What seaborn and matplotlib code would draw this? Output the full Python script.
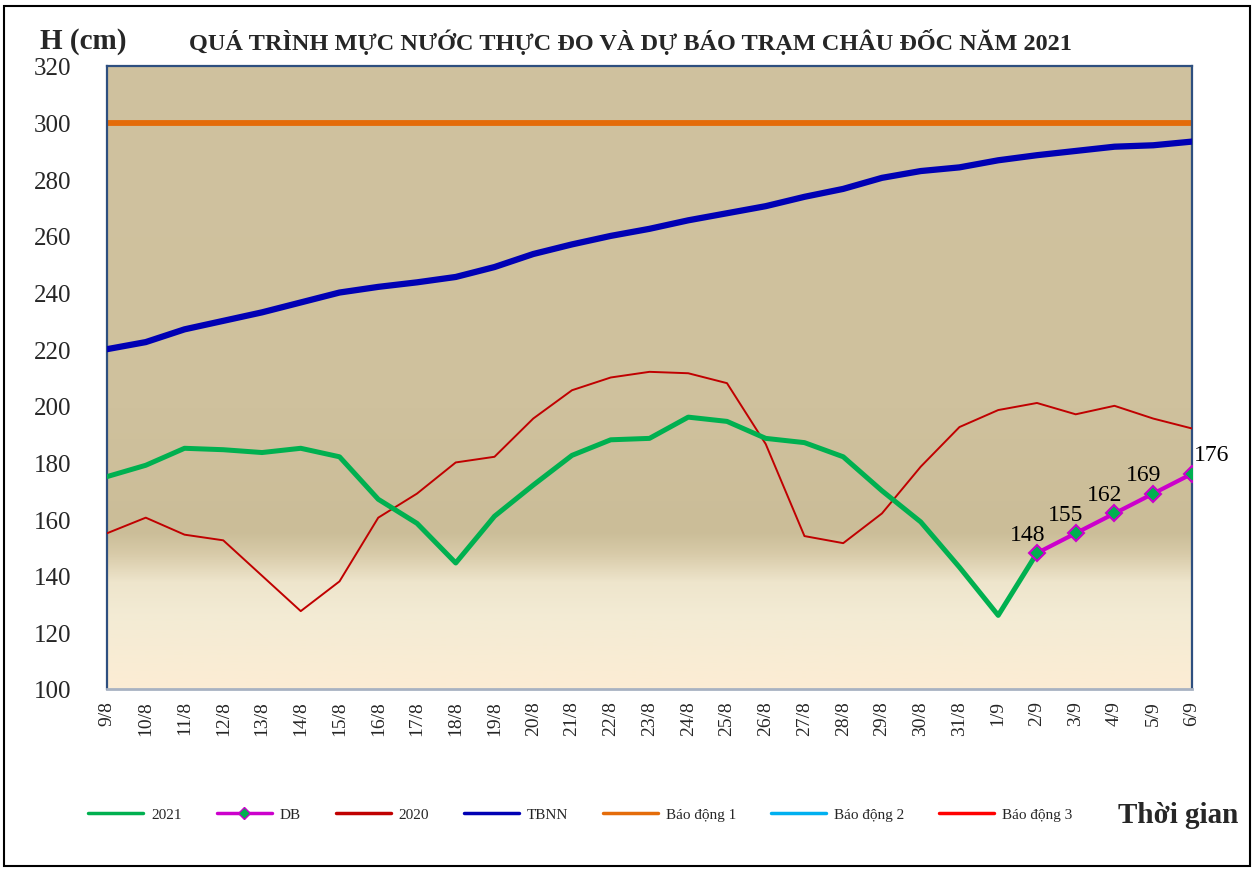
import numpy as np
import pandas as pd
import matplotlib
matplotlib.use("Agg")
import matplotlib.pyplot as plt
import seaborn as sns
from matplotlib.colors import LinearSegmentedColormap
from matplotlib.lines import Line2D
from matplotlib.patches import Rectangle

# Ngày quan trắc
dates = ["9/8", "10/8", "11/8", "12/8", "13/8", "14/8", "15/8", "16/8", "17/8",
         "18/8", "19/8", "20/8", "21/8", "22/8", "23/8", "24/8", "25/8", "26/8",
         "27/8", "28/8", "29/8", "30/8", "31/8", "1/9", "2/9", "3/9", "4/9",
         "5/9", "6/9"]

# Mực nước thực đo 2021 (cm), đến 2/9
h_2021 = [175, 179, 185, 184.5, 183.5, 185, 182, 167, 158.5, 144.5, 161, 172,
          182.5, 188, 188.5, 196, 194.5, 188.5, 187, 182, 170, 159, 143, 126, 148]
# Dự báo (DB) từ 2/9
h_db = [148, 155, 162, 169, 176]
# Cùng kỳ 2020
h_2020 = [155, 160.5, 154.5, 152.5, 140, 127.5, 138, 160.5, 169, 180, 182, 195.5,
          205.5, 210, 212, 211.5, 208, 186.5, 154, 151.5, 162, 178.5, 192.5, 198.5,
          201, 197, 200, 195.5, 192]
# Trung bình nhiều năm
h_tbnn = [220, 222.5, 227, 230, 233, 236.5, 240, 242, 243.6, 245.5, 249, 253.6,
          257, 260, 262.5, 265.5, 268, 270.5, 273.8, 276.6, 280.5, 282.9, 284.2,
          286.7, 288.5, 290, 291.5, 292, 293.3]
# Mức báo động
bd1, bd2, bd3 = 300, 350, 400

n = len(dates)
pos = np.arange(n)

sns.set_theme(style="white")
plt.rcParams["font.family"] = ["Liberation Serif", "DejaVu Serif"]

fig = plt.figure(figsize=(12.56, 8.7), dpi=100)
ax = fig.add_axes([0.0852, 0.2069, 0.8638, 0.7161])

# nền gradient
cmap = LinearSegmentedColormap.from_list(
    "bg", [(0.0, "#FCEDD4"), (0.12, "#F3EBD4"), (0.17, "#EEE5CC"),
           (0.215, "#D8CBA9"), (0.25, "#CBBD98"), (0.45, "#CFC19D"), (1.0, "#D0C29F")])
grad = np.linspace(0, 1, 256).reshape(-1, 1)
ax.imshow(grad, cmap=cmap, origin="lower", aspect="auto",
          extent=[0, 1, 0, 1], transform=ax.transAxes, zorder=0)

df_2021 = pd.DataFrame({"x": pos[:len(h_2021)], "y": h_2021})
df_db = pd.DataFrame({"x": pos[n - len(h_db):], "y": h_db})
df_2020 = pd.DataFrame({"x": pos, "y": h_2020})
df_tbnn = pd.DataFrame({"x": pos, "y": h_tbnn})

c2021, cdb, c2020, ctb = "#00B050", "#CC00CC", "#C00000", "#0000B4"
cbd1, cbd2, cbd3 = "#E46C0A", "#00B0F0", "#FF0000"

sns.lineplot(data=df_2021, x="x", y="y", ax=ax, color=c2021, lw=3.6, zorder=4)
sns.lineplot(data=df_2020, x="x", y="y", ax=ax, color=c2020, lw=1.4, zorder=3)
sns.lineplot(data=df_tbnn, x="x", y="y", ax=ax, color=ctb, lw=4.5, zorder=3)
ax.axhline(bd1, color=cbd1, lw=4.2, zorder=2)
ax.axhline(bd2, color=cbd2, lw=2, zorder=2)
ax.axhline(bd3, color=cbd3, lw=2, zorder=2)
sns.lineplot(data=df_db, x="x", y="y", ax=ax, color=cdb, lw=3, marker="D",
             markersize=8, markerfacecolor=c2021, markeredgecolor=cdb,
             markeredgewidth=1.5, zorder=5)

for i, (x, y) in enumerate(zip(df_db["x"], df_db["y"])):
    dx = 14 if i == len(h_db) - 1 else -7
    ax.annotate(f"{y:g}", (x, y), xytext=(dx, 6), textcoords="offset points",
                ha="center", va="bottom", fontsize=17, color="black", zorder=6)

ax.set_xlim(0, n - 1)
ax.set_ylim(100, 320)
ax.set_yticks(np.arange(100, 321, 20))
ax.set_xticks(pos)
ax.set_xticklabels(dates, rotation=90, fontsize=14)
ax.tick_params(axis="y", labelsize=18, pad=26, length=0)
ax.tick_params(axis="x", pad=8, length=0)
ax.set_xlabel("")
ax.set_ylabel("")
for s in ["left", "right", "top"]:
    ax.spines[s].set_color("#2E4F7F")
    ax.spines[s].set_linewidth(1.6)
ax.spines["bottom"].set_color("#A8B2C2")
ax.spines["bottom"].set_linewidth(2)

fig.text(0.032, 0.952, "H (cm)", fontsize=21, fontweight="bold", va="center")
fig.text(0.502, 0.952, "QUÁ TRÌNH MỰC NƯỚC THỰC ĐO VÀ DỰ BÁO TRẠM CHÂU ĐỐC NĂM 2021",
         fontsize=17.5, fontweight="bold", ha="center", va="center")

handles = [
    Line2D([], [], color=c2021, lw=2.5),
    Line2D([], [], color=cdb, lw=2.5, marker="D", markersize=6,
           markerfacecolor=c2021, markeredgecolor=cdb),
    Line2D([], [], color=c2020, lw=2.5),
    Line2D([], [], color=ctb, lw=2.5),
    Line2D([], [], color=cbd1, lw=2.5),
    Line2D([], [], color=cbd2, lw=2.5),
    Line2D([], [], color=cbd3, lw=2.5),
]
labels = ["2021", "DB", "2020", "TBNN", "Báo động 1", "Báo động 2", "Báo động 3"]
fig.legend(handles, labels, loc="center", bbox_to_anchor=(0.462, 0.063), ncol=7,
           frameon=False, fontsize=11, handlelength=3.6, columnspacing=2.3,
           handletextpad=0.5)
fig.text(0.986, 0.063, "Thời gian", fontsize=21, fontweight="bold",
         ha="right", va="center")

fig.add_artist(Rectangle((0.003, 0.003), 0.992, 0.989, transform=fig.transFigure,
                         fill=False, edgecolor="black", lw=1.5))

fig.savefig("out.png", dpi=100)
